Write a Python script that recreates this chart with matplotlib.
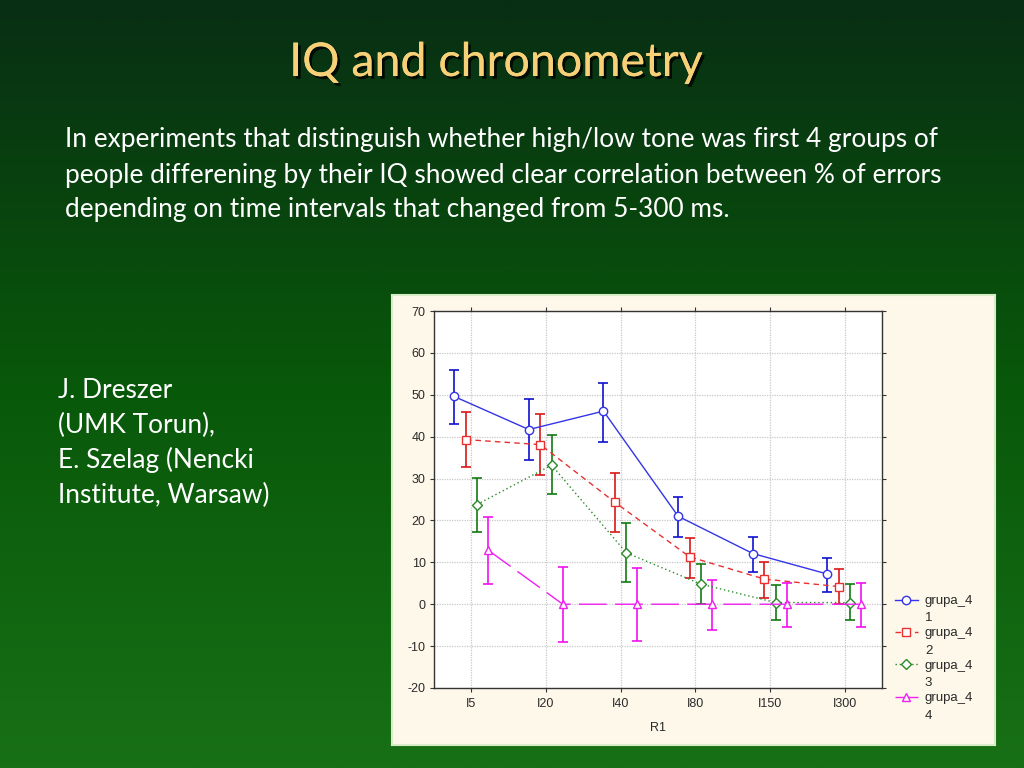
import matplotlib.pyplot as plt
import matplotlib.patheffects as pe
import numpy as np
from matplotlib.legend_handler import HandlerLine2D

plt.rcParams['axes.unicode_minus'] = False

# chart data
intervals = ['I5', 'I20', 'I40', 'I80', 'I150', 'I300']
groups = ['grupa_4\n1', 'grupa_4\n2', 'grupa_4\n3', 'grupa_4\n4']
means = [
    [49.6, 41.7, 46.1, 21.0, 12.1, 7.2],
    [39.3, 38.1, 24.3, 11.3, 6.0, 4.2],
    [23.8, 33.2, 12.3, 4.8, 0.4, 0.4],
    [12.9, 0.0, 0.0, 0.0, 0.0, 0.0],
]
err_low = [
    [43.1, 34.4, 38.7, 16.1, 7.7, 2.9],
    [32.8, 30.8, 17.3, 6.3, 1.5, 0.0],
    [17.3, 26.3, 5.3, 0.0, -3.8, -3.8],
    [4.8, -9.0, -8.8, -6.2, -5.4, -5.4],
]
err_high = [
    [55.8, 48.9, 52.7, 25.5, 16.1, 11.1],
    [45.8, 45.3, 31.3, 15.9, 10.0, 8.4],
    [30.2, 40.4, 19.3, 9.5, 4.5, 4.8],
    [20.8, 8.9, 8.7, 5.7, 5.1, 5.1],
]

title = 'IQ and chronometry'
body_lines = [
    'In experiments that distinguish whether high/low tone was first 4 groups of',
    'people differening by their IQ showed clear correlation between % of errors',
    'depending on time intervals that changed from 5-300 ms.',
]
author_lines = [
    'J. Dreszer',
    '(UMK Torun),',
    'E. Szelag (Nencki',
    'Institute, Warsaw)',
]

line_colors = ['#3434e8', '#e83030', '#2a8a2a', '#f020f0']
bar_colors = ['#1010d0', '#d81818', '#107a10', '#f010f0']
markers = ['o', 's', 'D', '^']
msizes = [6, 5.5, 5, 5.5]
styles = ['-', (0, (4, 3)), (0, (1, 2)), (0, (20, 6))]
offsets = [-0.23, -0.075, 0.075, 0.225]


class TopLineHandler(HandlerLine2D):
    # put the legend handle next to the first line of a two-line label
    def create_artists(self, legend, orig_handle, xdescent, ydescent, width, height, fontsize, trans):
        return super().create_artists(legend, orig_handle, xdescent, ydescent - 1.5 * fontsize,
                                      width, height, fontsize, trans)


fig = plt.figure(figsize=(10.24, 7.68), dpi=100)

# slide background: dark green gradient
bg = fig.add_axes([0, 0, 1, 1])
top = np.array([8, 46, 20]) / 255
mid = np.array([8, 88, 10]) / 255
bot = np.array([24, 112, 22]) / 255
t = np.linspace(0, 1, 256)[:, None]
grad = np.where(t < 0.5, top + (mid - top) * (t / 0.5), mid + (bot - mid) * ((t - 0.5) / 0.5))
bg.imshow(grad[:, None, :], aspect='auto', extent=[0, 1, 0, 1], origin='upper')
bg.set_xlim(0, 1)
bg.set_ylim(0, 1)
bg.axis('off')

# title with shadow
fig.text(0.484, 1 - 63 / 768, title, fontsize=33.5, color='#f7d078', family='Lato',
         ha='center', va='center',
         path_effects=[pe.withSimplePatchShadow(offset=(2, -2), shadow_rgbFace='black', alpha=0.8),
                       pe.Normal()])

for i, line in enumerate(body_lines):
    fig.text(65 / 1024, 1 - (140 + 35 * i) / 768, line, fontsize=18.9, color='white',
             family='Lato', ha='left', va='center')

for i, line in enumerate(author_lines):
    fig.text(58 / 1024, 1 - (390 + 35 * i) / 768, line, fontsize=18.9, color='white',
             family='Lato', ha='left', va='center')

# cream panel behind the chart
panel = fig.add_axes([392 / 1024, 1 - 745 / 768, 603 / 1024, 450 / 768])
panel.set_facecolor('#fdf8ea')
panel.set_xticks([])
panel.set_yticks([])
for s in panel.spines.values():
    s.set_color('#d8ecc8')
    s.set_linewidth(1.5)

ax = fig.add_axes([434 / 1024, 1 - 688 / 768, 448 / 1024, 377 / 768])
ax.set_facecolor('white')
x = np.arange(len(intervals))
handles = []
for k in range(len(groups)):
    xs = x + offsets[k]
    m = np.array(means[k])
    lo = m - np.array(err_low[k])
    hi = np.array(err_high[k]) - m
    ax.errorbar(xs, m, yerr=[lo, hi], fmt='none', ecolor=bar_colors[k], elinewidth=1.2,
                capsize=3.8, capthick=1.2, zorder=3)
    h, = ax.plot(xs, m, linestyle=styles[k], color=line_colors[k], lw=1.0,
                 marker=markers[k], ms=msizes[k], mfc='white', mec=line_colors[k],
                 mew=1.0, zorder=4, label=groups[k])
    handles.append(h)

ax.set_xlim(-0.5, 5.5)
ax.set_ylim(-20, 70)
ax.set_xticks(x)
ax.set_xticklabels(intervals)
ax.set_yticks(np.arange(-20, 71, 10))
ax.grid(True, color='#c8c8c8', linestyle=(0, (1, 1)), lw=0.9)
ax.set_axisbelow(True)
ax.tick_params(direction='out', length=3, width=0.8, colors='#333333', labelsize=9,
               top=True, right=True, labeltop=False, labelright=False)
for lab in ax.get_xticklabels() + ax.get_yticklabels():
    lab.set_family('Liberation Sans')
    lab.set_color('#2a2a2a')
ax.tick_params(axis='x', pad=4)
ax.tick_params(axis='y', pad=3)
for s in ax.spines.values():
    s.set_color('#333333')
    s.set_linewidth(1.0)
ax.set_xlabel('R1', fontsize=9, family='Liberation Sans', color='#2a2a2a', labelpad=9)

leg = fig.legend(handles=handles, loc='upper left', bbox_to_anchor=(888 / 1024, 1 - 588 / 768),
                 frameon=False, prop={'family': 'Liberation Sans', 'size': 9.5},
                 handlelength=1.8, handletextpad=0.5, labelspacing=0.2, borderpad=0,
                 handler_map={h: TopLineHandler() for h in handles})
for txt in leg.get_texts():
    txt.set_color('#2a2a2a')
    txt.set_linespacing(1.65)
    txt.set_multialignment('left')

fig.savefig('out.png', dpi=100)
